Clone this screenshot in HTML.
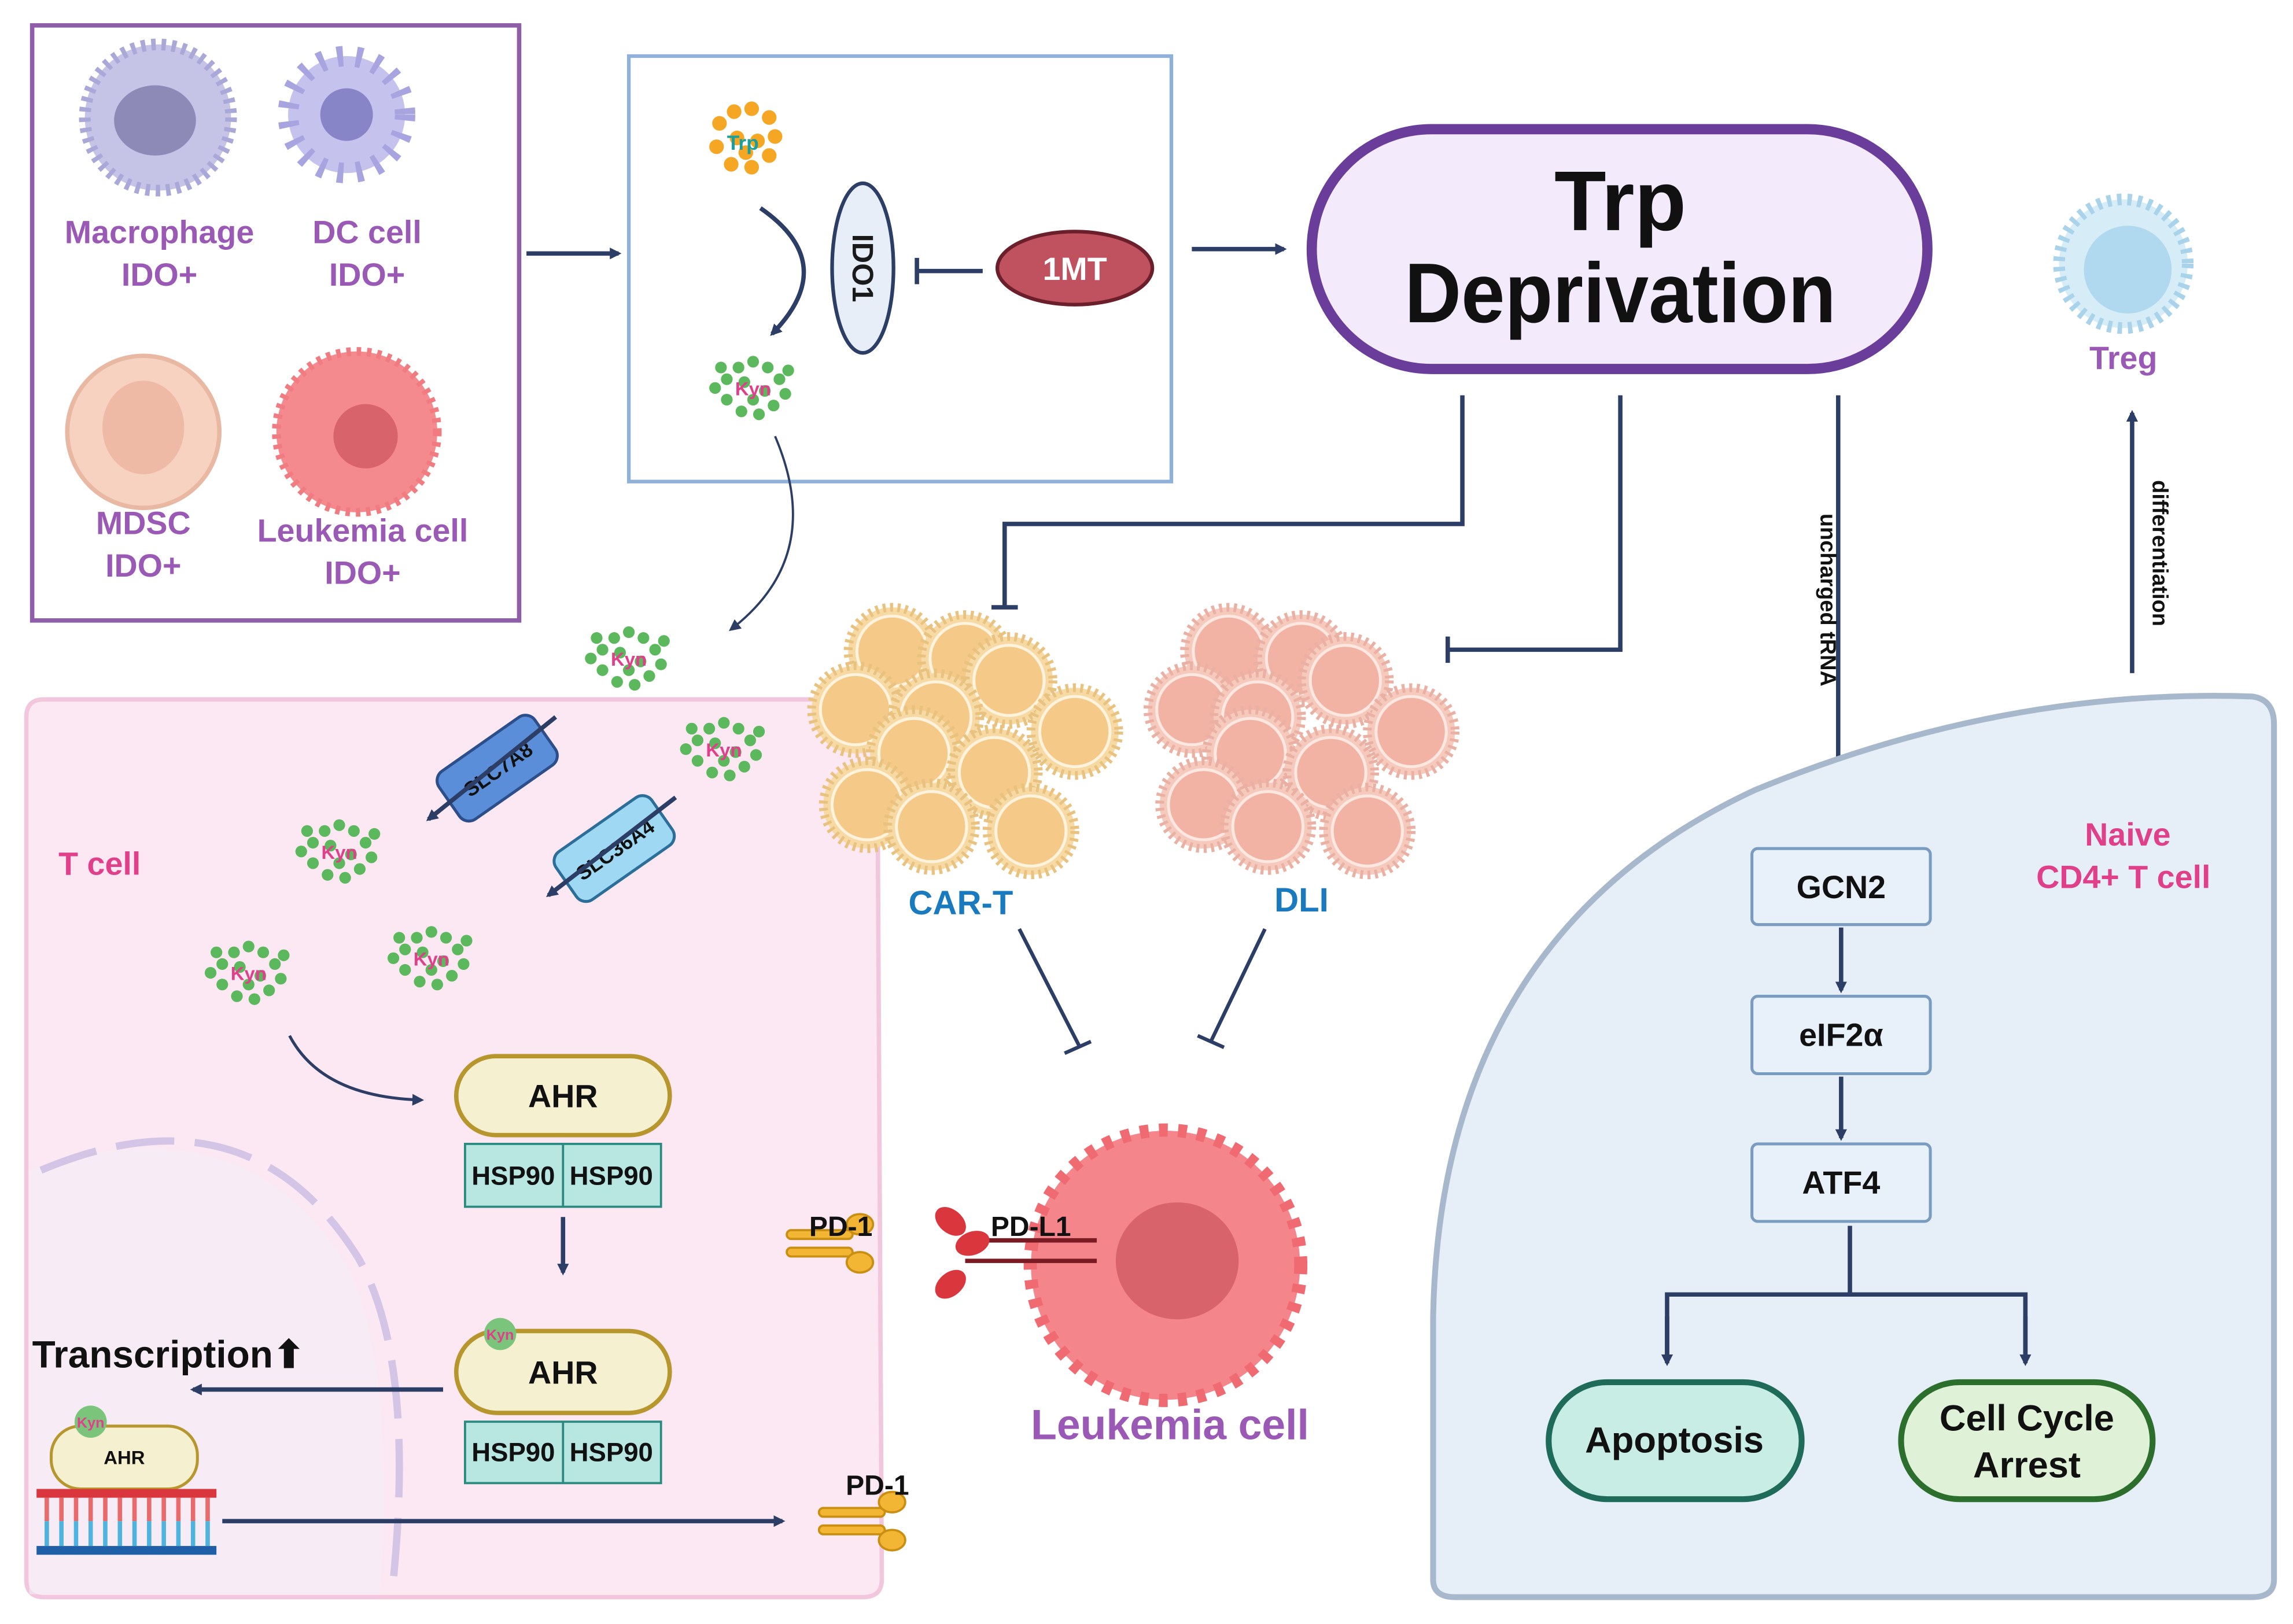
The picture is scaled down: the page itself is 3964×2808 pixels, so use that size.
<!DOCTYPE html>
<html><head><meta charset="utf-8"><style>
html,body{margin:0;padding:0;background:#fff}
svg{display:block}
text{font-family:"Liberation Sans",Arial,sans-serif;font-weight:bold}
</style></head><body>
<svg width="3964" height="2808" viewBox="0 0 1568 1110" xmlns="http://www.w3.org/2000/svg">
<defs>
<marker id="ar" markerWidth="8" markerHeight="8" refX="6" refY="4" orient="auto" markerUnits="userSpaceOnUse"><path d="M0,0 L8,4 L0,8 z" fill="#2c3e66"/></marker>
<g id="kyn" fill="#5cb85c">
<circle cx="-18" cy="-6" r="4"/><circle cx="-10" cy="-14" r="4"/><circle cx="0" cy="-18" r="4"/><circle cx="10" cy="-14" r="4"/><circle cx="18" cy="-6" r="4"/><circle cx="22" cy="4" r="4"/><circle cx="14" cy="12" r="4"/><circle cx="4" cy="18" r="4"/><circle cx="-8" cy="16" r="4"/><circle cx="-18" cy="8" r="4"/><circle cx="-26" cy="0" r="4"/><circle cx="-6" cy="-4" r="4"/><circle cx="8" cy="2" r="4"/><circle cx="0" cy="8" r="4"/><circle cx="24" cy="-12" r="4"/><circle cx="-22" cy="-14" r="4"/>
</g>
<g id="ycell"><circle r="30" fill="#f7d9a4" stroke="#e8c27e" stroke-width="6" stroke-dasharray="2 3"/><circle r="24" fill="#f5c987" stroke="#fff3dd" stroke-width="2"/></g>
<g id="pcell"><circle r="30" fill="#f6c9bd" stroke="#e9b0a3" stroke-width="6" stroke-dasharray="2 3"/><circle r="24" fill="#f2b3a4" stroke="#fde7e1" stroke-width="2"/></g>
<g id="pd1" fill="#f2b534" stroke="#c98e12" stroke-width="1.5"><rect x="0" y="-9" width="45" height="6" rx="3"/><rect x="0" y="3" width="45" height="6" rx="3"/><ellipse cx="50" cy="-13" rx="9" ry="7"/><ellipse cx="50" cy="13" rx="9" ry="7"/></g>
</defs>

<rect x="22" y="17" width="333" height="407" fill="#fff" stroke="#8e5ea8" stroke-width="3"/>
<circle cx="108" cy="80" r="50" fill="#c5c3e6" stroke="#aaa8d8" stroke-width="8" stroke-dasharray="3 4"/>
<ellipse cx="106" cy="82" rx="28" ry="24" fill="#8e8ab8"/>
<circle cx="237" cy="78" r="40" fill="#c5c3ee" stroke="#a7a4e0" stroke-width="14" stroke-dasharray="4 9"/>
<circle cx="237" cy="78" r="18" fill="#8784c8"/>
<circle cx="98" cy="295" r="52" fill="#f8d2c0" stroke="#e8b8a2" stroke-width="3"/>
<ellipse cx="98" cy="292" rx="28" ry="32" fill="#efbaa5"/>
<circle cx="244" cy="295" r="55" fill="#f58a8e" stroke="#f07c82" stroke-width="6" stroke-dasharray="3 4"/>
<circle cx="250" cy="298" r="22" fill="#d9636b"/>
<g fill="#9b59b6" font-size="22" text-anchor="middle">
<text x="109" y="166">Macrophage</text><text x="109" y="195">IDO+</text>
<text x="251" y="166">DC cell</text><text x="251" y="195">IDO+</text>
<text x="98" y="365">MDSC</text><text x="98" y="394">IDO+</text>
<text x="248" y="370">Leukemia cell</text><text x="248" y="399">IDO+</text>
</g>
<line x1="360" y1="173" x2="423" y2="173" stroke="#2c3e66" stroke-width="3" marker-end="url(#ar)"/>

<rect x="430" y="38" width="371" height="291" fill="#fff" stroke="#8fb0d8" stroke-width="2.5"/>
<g fill="#f5a623"><circle cx="492" cy="84" r="5"/><circle cx="502" cy="76" r="5"/><circle cx="514" cy="74" r="5"/><circle cx="526" cy="80" r="5"/><circle cx="530" cy="93" r="5"/><circle cx="526" cy="106" r="5"/><circle cx="514" cy="114" r="5"/><circle cx="500" cy="112" r="5"/><circle cx="490" cy="100" r="5"/><circle cx="504" cy="94" r="5"/><circle cx="518" cy="96" r="5"/><circle cx="510" cy="104" r="5"/></g>
<text x="508" y="102" font-size="14" fill="#18a0a0" text-anchor="middle">Trp</text>
<path d="M520,142 Q575,180 528,228" fill="none" stroke="#2c3e66" stroke-width="3" marker-end="url(#ar)"/>
<use href="#kyn" x="515" y="265"/>
<text x="515" y="270" font-size="13" fill="#e0408a" text-anchor="middle">Kyn</text>
<ellipse cx="590" cy="183" rx="21" ry="58" fill="#e8eef8" stroke="#2c3e66" stroke-width="2.5"/>
<text x="590" y="183" font-size="20" fill="#1a1a1a" text-anchor="middle" transform="rotate(90 590 183)" dy="7">IDO1</text>
<line x1="672" y1="185" x2="627" y2="185" stroke="#2c3e66" stroke-width="3"/>
<line x1="627" y1="176" x2="627" y2="194" stroke="#2c3e66" stroke-width="3"/>
<ellipse cx="735" cy="183" rx="53" ry="25" fill="#c0525f" stroke="#6b1f2a" stroke-width="2.5"/>
<text x="735" y="191" font-size="22" fill="#fff" text-anchor="middle">1MT</text>
<line x1="815" y1="170" x2="878" y2="170" stroke="#2c3e66" stroke-width="3" marker-end="url(#ar)"/>

<rect x="897" y="88" width="421" height="164" rx="82" fill="#f3eafc" stroke="#6a3d9a" stroke-width="7"/>
<text x="1108" y="157" font-size="58" fill="#111" text-anchor="middle">Trp</text>
<text x="1108" y="220" font-size="58" fill="#111" text-anchor="middle" textLength="295" lengthAdjust="spacingAndGlyphs">Deprivation</text>

<circle cx="1452" cy="180" r="44" fill="#d6ecf7" stroke="#a9d3ea" stroke-width="8" stroke-dasharray="3 4"/>
<circle cx="1455" cy="184" r="30" fill="#b0d8ee"/>
<text x="1452" y="252" font-size="22" fill="#9b59b6" text-anchor="middle">Treg</text>

<g stroke="#2c3e66" stroke-width="3" fill="none">
<polyline points="1000,270 1000,358 687,358 687,415"/>
<line x1="678" y1="415" x2="696" y2="415"/>
<polyline points="1108,270 1108,444 990,444"/>
<line x1="990" y1="435" x2="990" y2="453"/>
<line x1="1257" y1="270" x2="1257" y2="558" marker-end="url(#ar)"/>
<line x1="1458" y1="460" x2="1458" y2="282" marker-end="url(#ar)"/>
<path d="M530,298 Q565,380 500,430" marker-end="url(#ar)" stroke-width="1.5"/>
</g>
<text x="1245" y="410" font-size="15" fill="#111" text-anchor="middle" transform="rotate(90 1245 410)">uncharged tRNA</text>
<text x="1472" y="378" font-size="15" fill="#111" text-anchor="middle" transform="rotate(90 1472 378)">differentiation</text>

<path d="M30,478 L560,478 Q600,480 600,520 L603,1080 Q603,1092 590,1092 L30,1092 Q18,1092 18,1080 L18,490 Q18,478 30,478 Z" fill="#fce8f2" stroke="#f2c6dc" stroke-width="3"/>
<path d="M20,800 Q170,750 240,870 Q270,940 260,1090 L20,1090 Z" fill="#f4eef6" opacity="0.6"/>
<path d="M28,800 Q170,740 245,860 Q285,930 268,1090" fill="none" stroke="#d4c4e6" stroke-width="5" stroke-dasharray="40 14"/>
<text x="40" y="598" font-size="22" fill="#e0408a">T cell</text>

<path d="M980,1080 L980,900 Q985,640 1200,540 Q1370,470 1540,476 Q1555,478 1555,495 L1555,1080 Q1555,1092 1540,1092 L995,1092 Q980,1092 980,1080 Z" fill="#e6eef8" stroke="#a8b8cc" stroke-width="4"/>
<text x="1455" y="578" font-size="22" fill="#e0408a" text-anchor="middle">Naive</text>
<text x="1452" y="607" font-size="22" fill="#e0408a" text-anchor="middle">CD4+ T cell</text>

<use href="#kyn" x="430" y="450"/><text x="430" y="455" font-size="13" fill="#e0408a" text-anchor="middle">Kyn</text>
<use href="#kyn" x="495" y="512"/><text x="495" y="517" font-size="13" fill="#e0408a" text-anchor="middle">Kyn</text>
<use href="#kyn" x="232" y="582"/><text x="232" y="587" font-size="13" fill="#e0408a" text-anchor="middle">Kyn</text>
<use href="#kyn" x="295" y="655"/><text x="295" y="660" font-size="13" fill="#e0408a" text-anchor="middle">Kyn</text>
<use href="#kyn" x="170" y="665"/><text x="170" y="670" font-size="13" fill="#e0408a" text-anchor="middle">Kyn</text>

<g transform="translate(340,525) rotate(-35)">
<rect x="-40" y="-20" width="80" height="40" rx="8" fill="#5b8ed8" stroke="#2c4e8a" stroke-width="2"/>
<text x="0" y="6" font-size="14" fill="#111" text-anchor="middle">SLC7A8</text></g>
<line x1="380" y1="490" x2="293" y2="560" stroke="#2c3e66" stroke-width="3" marker-end="url(#ar)"/>
<g transform="translate(420,580) rotate(-35)">
<rect x="-40" y="-20" width="80" height="40" rx="8" fill="#9fd8f2" stroke="#2c6e9a" stroke-width="2"/>
<text x="0" y="6" font-size="14" fill="#111" text-anchor="middle">SLC36A4</text></g>
<line x1="462" y1="545" x2="375" y2="612" stroke="#2c3e66" stroke-width="3" marker-end="url(#ar)"/>
<path d="M198,708 Q220,750 288,752" fill="none" stroke="#2c3e66" stroke-width="2" marker-end="url(#ar)"/>

<rect x="312" y="722" width="146" height="54" rx="27" fill="#f5f0d0" stroke="#b8962e" stroke-width="3"/>
<text x="385" y="757" font-size="22" fill="#111" text-anchor="middle">AHR</text>
<rect x="318" y="782" width="134" height="43" fill="#b8e6e0" stroke="#2a8a80" stroke-width="1.5"/>
<line x1="385" y1="782" x2="385" y2="825" stroke="#2a8a80" stroke-width="1.5"/>
<text x="351" y="810" font-size="18" fill="#111" text-anchor="middle">HSP90</text><text x="418" y="810" font-size="18" fill="#111" text-anchor="middle">HSP90</text>
<line x1="385" y1="832" x2="385" y2="870" stroke="#2c3e66" stroke-width="3" marker-end="url(#ar)"/>
<rect x="312" y="910" width="146" height="56" rx="28" fill="#f5f0d0" stroke="#b8962e" stroke-width="3"/>
<circle cx="342" cy="912" r="11" fill="#7bc47b"/><text x="342" y="916" font-size="10" fill="#e0408a" text-anchor="middle">Kyn</text>
<text x="385" y="946" font-size="22" fill="#111" text-anchor="middle">AHR</text>
<rect x="318" y="972" width="134" height="42" fill="#b8e6e0" stroke="#2a8a80" stroke-width="1.5"/>
<line x1="385" y1="972" x2="385" y2="1014" stroke="#2a8a80" stroke-width="1.5"/>
<text x="351" y="999" font-size="18" fill="#111" text-anchor="middle">HSP90</text><text x="418" y="999" font-size="18" fill="#111" text-anchor="middle">HSP90</text>
<line x1="303" y1="950" x2="132" y2="950" stroke="#2c3e66" stroke-width="3" marker-end="url(#ar)"/>
<text x="22" y="935" font-size="26" fill="#111">Transcription⬆</text>
<rect x="35" y="975" width="100" height="43" rx="20" fill="#f5f0d0" stroke="#b8962e" stroke-width="2"/>
<circle cx="62" cy="972" r="11" fill="#7bc47b"/><text x="62" y="976" font-size="10" fill="#e0408a" text-anchor="middle">Kyn</text>
<text x="85" y="1001" font-size="13" fill="#111" text-anchor="middle">AHR</text>
<rect x="25" y="1018" width="123" height="6" fill="#d9363e"/>
<rect x="25" y="1057" width="123" height="6" fill="#1f5fa8"/>
<g stroke-width="3"><path d="M32,1024 V1040 M42,1024 V1040 M52,1024 V1040 M62,1024 V1040 M72,1024 V1040 M82,1024 V1040 M92,1024 V1040 M102,1024 V1040 M112,1024 V1040 M122,1024 V1040 M132,1024 V1040 M142,1024 V1040" stroke="#e86a6a"/>
<path d="M32,1040 V1057 M42,1040 V1057 M52,1040 V1057 M62,1040 V1057 M72,1040 V1057 M82,1040 V1057 M92,1040 V1057 M102,1040 V1057 M112,1040 V1057 M122,1040 V1057 M132,1040 V1057 M142,1040 V1057" stroke="#4fb3e0"/></g>
<line x1="152" y1="1040" x2="535" y2="1040" stroke="#2c3e66" stroke-width="3" marker-end="url(#ar)"/>
<use href="#pd1" x="560" y="1040"/>
<text x="600" y="1022" font-size="19" fill="#111" text-anchor="middle">PD-1</text>
<use href="#pd1" x="538" y="850"/>
<text x="575" y="845" font-size="19" fill="#111" text-anchor="middle">PD-1</text>

<g>
<use href="#ycell" x="610" y="445"/><use href="#ycell" x="660" y="450"/><use href="#ycell" x="690" y="465"/>
<use href="#ycell" x="585" y="485"/><use href="#ycell" x="640" y="490"/><use href="#ycell" x="735" y="500"/>
<use href="#ycell" x="625" y="515"/><use href="#ycell" x="680" y="528"/><use href="#ycell" x="593" y="550"/>
<use href="#ycell" x="637" y="565"/><use href="#ycell" x="705" y="568"/>
</g>
<g>
<use href="#pcell" x="840" y="445"/><use href="#pcell" x="890" y="450"/><use href="#pcell" x="920" y="465"/>
<use href="#pcell" x="815" y="485"/><use href="#pcell" x="860" y="490"/><use href="#pcell" x="965" y="500"/>
<use href="#pcell" x="855" y="515"/><use href="#pcell" x="910" y="528"/><use href="#pcell" x="823" y="550"/>
<use href="#pcell" x="867" y="565"/><use href="#pcell" x="935" y="568"/>
</g>
<text x="657" y="625" font-size="23" fill="#1a7ac0" text-anchor="middle">CAR-T</text>
<text x="890" y="623" font-size="23" fill="#1a7ac0" text-anchor="middle">DLI</text>
<g stroke="#2c3e66" stroke-width="2.5">
<line x1="697" y1="635" x2="738" y2="715"/><line x1="728" y1="720" x2="746" y2="712"/>
<line x1="865" y1="635" x2="828" y2="712"/><line x1="819" y1="708" x2="837" y2="716"/>
</g>

<circle cx="797" cy="865" r="92" fill="#f4858a" stroke="#f06a72" stroke-width="10" stroke-dasharray="6 7"/>
<circle cx="797" cy="865" r="88" fill="#f4858a"/>
<ellipse cx="805" cy="862" rx="42" ry="40" fill="#d9636b"/>
<line x1="660" y1="848" x2="750" y2="848" stroke="#7a1a22" stroke-width="3"/>
<line x1="660" y1="862" x2="750" y2="862" stroke="#7a1a22" stroke-width="3"/>
<ellipse cx="650" cy="835" rx="12" ry="8" fill="#d9363e" transform="rotate(40 650 835)"/>
<ellipse cx="665" cy="850" rx="12" ry="8" fill="#d9363e" transform="rotate(-20 665 850)"/>
<ellipse cx="650" cy="878" rx="12" ry="8" fill="#d9363e" transform="rotate(-40 650 878)"/>
<text x="705" y="845" font-size="19" fill="#111" text-anchor="middle">PD-L1</text>
<text x="800" y="984" font-size="29" fill="#9b59b6" text-anchor="middle">Leukemia cell</text>

<g fill="#e8f0fa" stroke="#7a9cc0" stroke-width="2">
<rect x="1198" y="580" width="122" height="52" rx="4"/>
<rect x="1198" y="681" width="122" height="53" rx="4"/>
<rect x="1198" y="782" width="122" height="53" rx="4"/>
</g>
<g font-size="22" fill="#111" text-anchor="middle">
<text x="1259" y="614">GCN2</text><text x="1259" y="715">eIF2α</text><text x="1259" y="816">ATF4</text>
</g>
<g stroke="#2c3e66" stroke-width="3" fill="none">
<line x1="1259" y1="634" x2="1259" y2="677" marker-end="url(#ar)"/>
<line x1="1259" y1="736" x2="1259" y2="778" marker-end="url(#ar)"/>
<line x1="1265" y1="838" x2="1265" y2="885"/>
<polyline points="1140,930 1140,885 1385,885 1385,930"/>
<line x1="1140" y1="900" x2="1140" y2="932" marker-end="url(#ar)"/>
<line x1="1385" y1="900" x2="1385" y2="932" marker-end="url(#ar)"/>
</g>
<rect x="1059" y="945" width="173" height="80" rx="40" fill="#c8ede4" stroke="#1e6b5a" stroke-width="4"/>
<text x="1145" y="993" font-size="25" fill="#111" text-anchor="middle">Apoptosis</text>
<rect x="1300" y="945" width="172" height="80" rx="40" fill="#dff2d8" stroke="#2c6e2c" stroke-width="4"/>
<text x="1386" y="978" font-size="25" fill="#111" text-anchor="middle">Cell Cycle</text>
<text x="1386" y="1010" font-size="25" fill="#111" text-anchor="middle">Arrest</text>
</svg>
</body></html>
